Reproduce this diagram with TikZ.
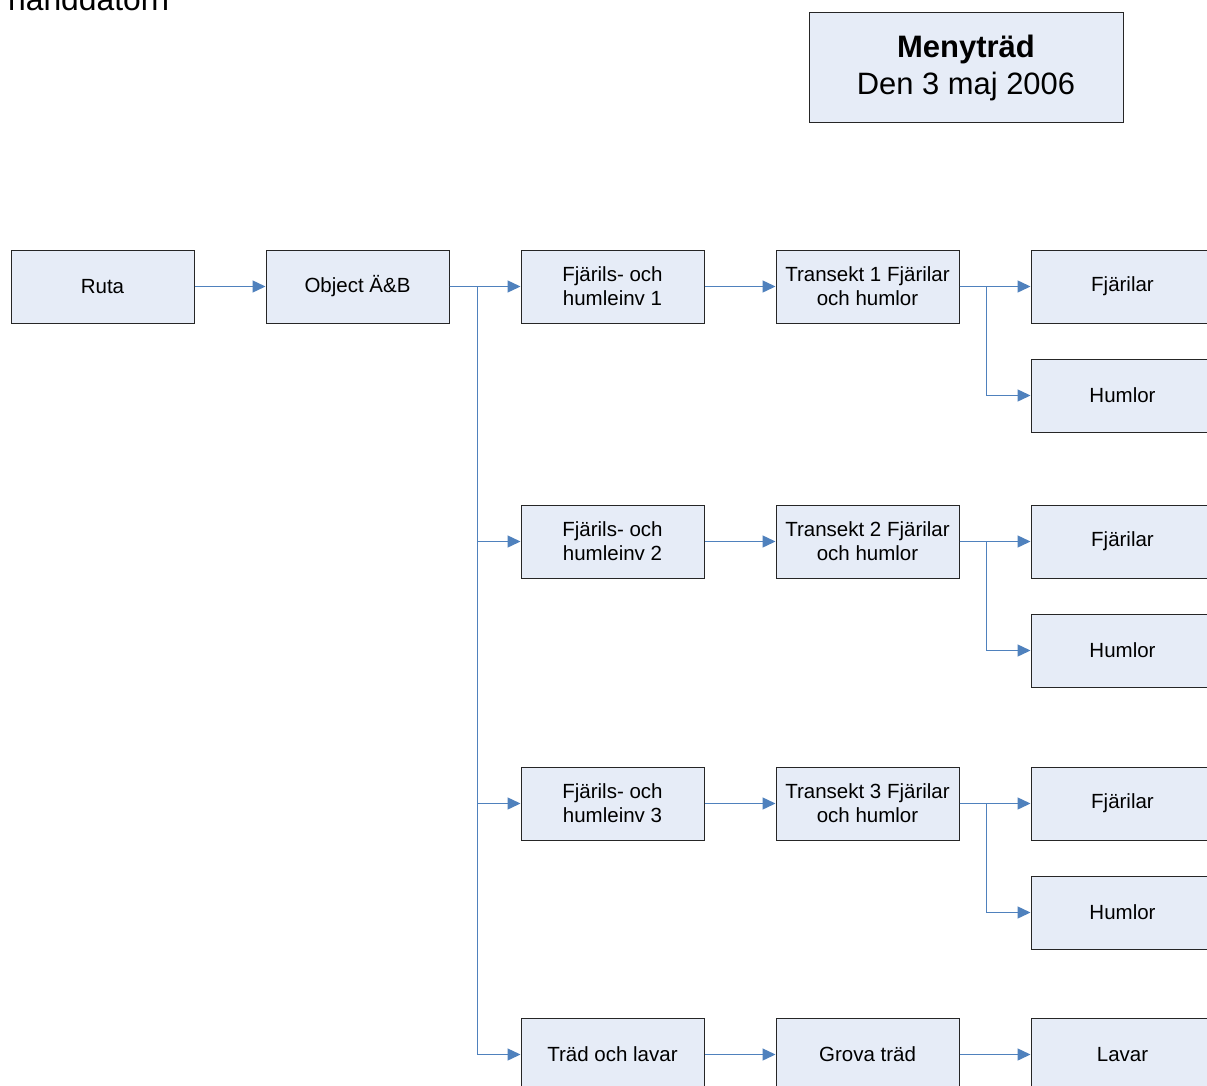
\documentclass[tikz,border=0pt]{standalone}
\usepackage{fontspec}
\setmainfont{Liberation Sans}
\usetikzlibrary{arrows.meta}
\definecolor{boxfill}{HTML}{E6ECF7}
\definecolor{linkblue}{HTML}{4F81BD}
\tikzset{
  menubox/.style={draw=black!85, line width=1pt, fill=boxfill, minimum width=183pt,
    minimum height=73pt, inner sep=2pt, align=center,
    font=\fontsize{20.5}{24}\selectfont},
  link/.style={draw=linkblue, line width=1.4pt,
    -{Triangle[length=13pt,width=12pt]}},
}
\begin{document}
\begin{tikzpicture}[x=1pt,y=-1pt]
\useasboundingbox (0,0) rectangle (1207,1086);
\clip (0,0) rectangle (1207,1086);
\fill[white] (0,0) rectangle (1207,1086);

% heading text partly cut off at the top
\node[anchor=base west, inner sep=0pt, font=\fontsize{31.8}{37}\selectfont] (hd) at (8,11) {handdatorn};

% title box
\node[draw=black!85, line width=1pt, fill=boxfill, minimum width=314pt, minimum height=110pt,
  align=center, font=\fontsize{30.9}{37}\selectfont] (title) at (966,68)
  {\textbf{\fontsize{31}{37}\selectfont Menyträd}\\Den 3 maj 2006};

% first row
\node[menubox] (ruta) at (102.5,286.5) {Ruta};
\node[menubox] (obj)  at (357.5,286.5) {Object Ä\&B};

% middle columns
\node[menubox] (f1) at (612.5,286.5) {Fjärils- och\\humleinv 1};
\node[menubox] (f2) at (612.5,541.5) {Fjärils- och\\humleinv 2};
\node[menubox] (f3) at (612.5,803.5) {Fjärils- och\\humleinv 3};
\node[menubox] (tl) at (612.5,1054.5) {Träd och lavar};

\node[menubox] (t1) at (867.5,286.5) {Transekt 1 Fjärilar\\och humlor};
\node[menubox] (t2) at (867.5,541.5) {Transekt 2 Fjärilar\\och humlor};
\node[menubox] (t3) at (867.5,803.5) {Transekt 3 Fjärilar\\och humlor};
\node[menubox] (gt) at (867.5,1054.5) {Grova träd};

% right column (runs past the right edge)
\node[menubox] (fj1) at (1122.5,286.5) {Fjärilar};
\node[menubox] (hu1) at (1122.5,395.5) {Humlor};
\node[menubox] (fj2) at (1122.5,541.5) {Fjärilar};
\node[menubox] (hu2) at (1122.5,650.5) {Humlor};
\node[menubox] (fj3) at (1122.5,803.5) {Fjärilar};
\node[menubox] (hu3) at (1122.5,912.5) {Humlor};
\node[menubox] (lav) at (1122.5,1054.5) {Lavar};

% connectors
\draw[link] (ruta.east) -- (obj.east -| obj.west);
\draw[link] (obj.east) -- (f1.west);
\draw[link] (obj.east) -- ++(28,0) |- (f2.west);
\draw[link] (obj.east) -- ++(28,0) |- (f3.west);
\draw[link] (obj.east) -- ++(28,0) |- (tl.west);

\draw[link] (f1.east) -- (t1.west);
\draw[link] (f2.east) -- (t2.west);
\draw[link] (f3.east) -- (t3.west);
\draw[link] (tl.east) -- (gt.west);

\draw[link] (t1.east) -- (fj1.west);
\draw[link] (t1.east) -- ++(27,0) |- (hu1.west);
\draw[link] (t2.east) -- (fj2.west);
\draw[link] (t2.east) -- ++(27,0) |- (hu2.west);
\draw[link] (t3.east) -- (fj3.west);
\draw[link] (t3.east) -- ++(27,0) |- (hu3.west);
\draw[link] (gt.east) -- (lav.west);
\end{tikzpicture}
\end{document}
